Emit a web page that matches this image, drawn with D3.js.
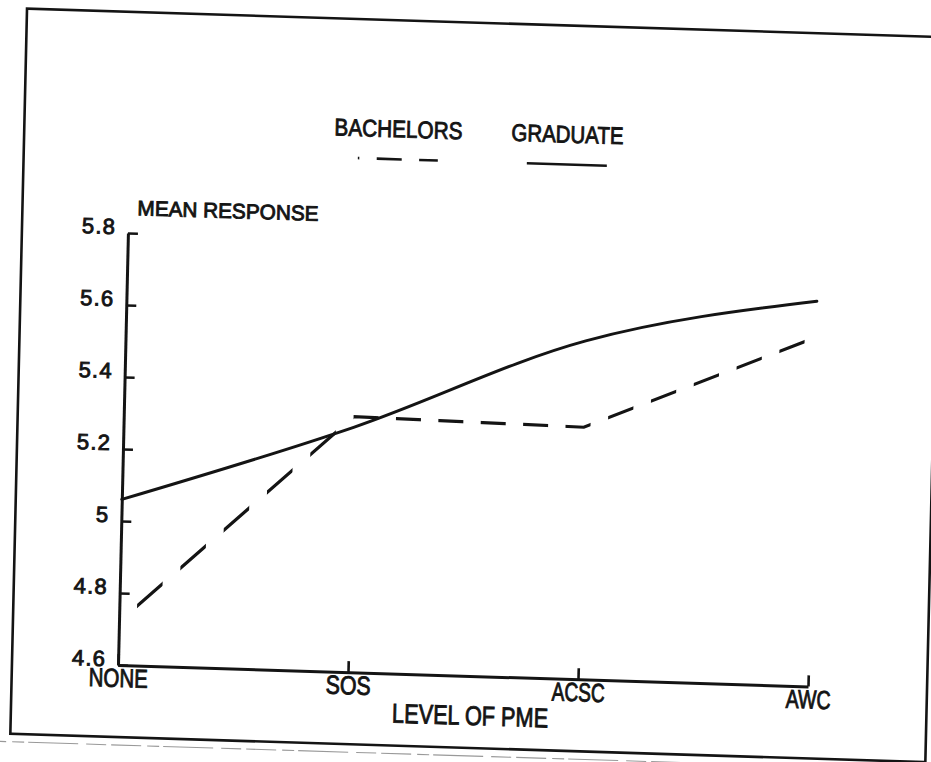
<!DOCTYPE html>
<html>
<head>
<meta charset="utf-8">
<script src="https://cdn.jsdelivr.net/npm/d3@7"></script>
<style>
  html, body { margin: 0; padding: 0; background: #fff; }
  svg { display: block; }
  text { font-family: "Liberation Sans Narrow", "Liberation Sans", Arial, sans-serif; fill: #141414; }
</style>
</head>
<body>
<svg id="chart" width="931" height="762"></svg>
<script>
// ---- data ----
const categories = ["NONE", "SOS", "ACSC", "AWC"];
const bachelors = [4.72, 5.31, 5.30, 5.57];
const graduate = [5.06, 5.28, 5.54, 5.67];
const seriesNames = ["BACHELORS", "GRADUATE"];
const yTicks = [4.6, 4.8, 5, 5.2, 5.4, 5.6, 5.8];
const yTickLabels = ["4.6", "4.8", "5", "5.2", "5.4", "5.6", "5.8"];
const yTitle = "MEAN RESPONSE";
const xTitle = "LEVEL OF PME";

// ---- layout ----
const ink = "#141414";
const textStroke = 0.9;
const plotW = 690, plotH = 432;
const svg = d3.select("#chart");
const defs = svg.append("defs");

// the printed sheet sits slightly skewed on the page
const g = svg.append("g")
  .attr("transform", "translate(118,665) matrix(1,0.031,-0.023,1,0,0)");

const x = d3.scalePoint().domain(categories).range([0, plotW]);
const y = d3.scaleLinear().domain([4.6, 5.8]).range([0, -plotH]);

// sheet border
g.append("rect")
  .attr("x", -106).attr("y", -653)
  .attr("width", 915).attr("height", 725)
  .attr("fill", "none").attr("stroke", ink).attr("stroke-width", 2.6);

// faint copier streak under the border
g.append("line")
  .attr("x1", -140).attr("x2", 840).attr("y1", 80).attr("y2", 80)
  .attr("stroke", "#999").attr("stroke-width", 1.1)
  .attr("stroke-dasharray", "30 6 12 4 50 8 20 5");

// ---- y axis (ticks point inward, labels sit on the tick) ----
const yAxis = g.append("g")
  .call(d3.axisLeft(y).tickValues(yTicks)
    .tickFormat((d, i) => yTickLabels[i])
    .tickSize(-10).tickSizeOuter(0).tickPadding(12));
yAxis.attr("font-family", null).attr("font-size", null);
yAxis.select(".domain").attr("stroke", ink).attr("stroke-width", 3);
yAxis.selectAll(".tick line").attr("stroke", ink).attr("stroke-width", 2.6);
yAxis.selectAll(".tick text")
  .attr("dy", 0).attr("y", 1)
  .attr("font-size", 22).attr("letter-spacing", 1.2)
  .attr("fill", ink).attr("stroke", ink).attr("stroke-width", textStroke);

// ---- x axis (ticks point upward) ----
const xLabelWidths = { NONE: 59, SOS: 45, ACSC: 53, AWC: 45 };
const xAxis = g.append("g")
  .call(d3.axisBottom(x).tickSize(-11).tickSizeOuter(0));
xAxis.attr("font-family", null).attr("font-size", null);
xAxis.select(".domain").attr("stroke", ink).attr("stroke-width", 3);
xAxis.selectAll(".tick line").attr("stroke", ink).attr("stroke-width", 2.6);
xAxis.selectAll(".tick text")
  .attr("dy", 0).attr("y", 22)
  .attr("font-size", 26)
  .attr("textLength", d => xLabelWidths[d])
  .attr("lengthAdjust", "spacingAndGlyphs")
  .attr("fill", ink).attr("stroke", ink).attr("stroke-width", textStroke);

// axis titles
g.append("text")
  .attr("x", 9).attr("y", -450)
  .attr("font-size", 21)
  .attr("textLength", 181).attr("lengthAdjust", "spacingAndGlyphs")
  .attr("stroke", ink).attr("stroke-width", textStroke)
  .text(yTitle);

g.append("text")
  .attr("x", 353).attr("y", 49)
  .attr("text-anchor", "middle")
  .attr("font-size", 27)
  .attr("textLength", 156).attr("lengthAdjust", "spacingAndGlyphs")
  .attr("stroke", ink).attr("stroke-width", textStroke)
  .text(xTitle);

// ---- lines ----
// the dashed pen repeats its pattern along the horizontal direction
const dashStart = 17.7, dashLen = 25, dashPeriod = 42.4;
defs.append("clipPath").attr("id", "dash-clip")
  .selectAll("rect")
  .data(d3.range(dashStart, plotW, dashPeriod))
  .join("rect")
  .attr("x", d => d).attr("width", dashLen)
  .attr("y", -plotH - 20).attr("height", plotH + 40);

const lineLinear = d3.line()
  .x((d, i) => x(categories[i])).y(d => y(d));
const lineSmooth = d3.line()
  .x((d, i) => x(categories[i])).y(d => y(d))
  .curve(d3.curveMonotoneX);

g.append("path")
  .datum(bachelors)
  .attr("d", lineLinear)
  .attr("fill", "none").attr("stroke", ink).attr("stroke-width", 3.2)
  .attr("clip-path", "url(#dash-clip)");

g.append("path")
  .datum(graduate)
  .attr("d", lineSmooth)
  .attr("fill", "none").attr("stroke", ink).attr("stroke-width", 3)
  .attr("stroke-linecap", "round");

// ---- legend ----
const legend = [
  { name: seriesNames[0], cx: 268, width: 128, dashed: true },
  { name: seriesNames[1], cx: 437, width: 112, dashed: false }
];
const lg = g.selectAll(".legend").data(legend).join("g").attr("class", "legend");
lg.append("text")
  .attr("x", d => d.cx).attr("y", -536)
  .attr("text-anchor", "middle")
  .attr("font-size", 24)
  .attr("textLength", d => d.width).attr("lengthAdjust", "spacingAndGlyphs")
  .attr("stroke", ink).attr("stroke-width", textStroke)
  .text(d => d.name);
lg.append("line")
  .attr("x1", d => d.cx - 40).attr("x2", d => d.cx + 40)
  .attr("y1", -514).attr("y2", -514)
  .attr("stroke", ink).attr("stroke-width", 2.6)
  .attr("stroke-dasharray", d => d.dashed ? "25 17.4" : null)
  .attr("stroke-dashoffset", d => d.dashed ? 23.5 : null);
</script>
</body>
</html>
